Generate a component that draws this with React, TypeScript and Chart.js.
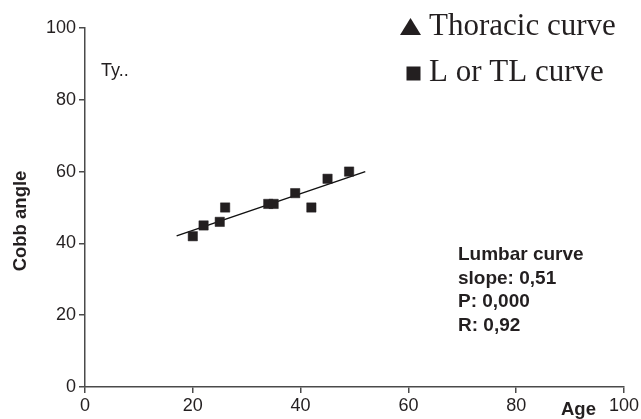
import { useEffect, useRef } from "react";
import { Chart, registerables } from "chart.js";

Chart.register(...registerables);

// ---- data ----
const ageValues = [20, 22, 25, 26, 34, 35, 39, 42, 45, 49];
const cobbValues = [42, 45, 46, 50, 51, 51, 54, 50, 58, 60];
const thoracicAge: number[] = [];
const thoracicCobb: number[] = [];
const trendAge = [17, 52];
const trendCobb = [42.1, 60];
const axisMin = 0;
const axisMax = 100;
const axisStep = 20;
const legendLabels = ["Thoracic curve", "L or TL curve"];
const statsLines = ["Lumbar curve", "slope: 0,51", "P: 0,000", "R: 0,92"];
const panelLabel = "Ty..";
const xTitle = "Age";
const yTitle = "Cobb angle";

const INK = "#231f20";
const AXIS = "#4a4a4a";
const SANS = '"Liberation Sans", Arial, sans-serif';
const SERIF = '"Liberation Serif", "Times New Roman", serif';

const textPlugin = {
  id: "textPlugin",
  afterDraw(chart: any) {
    const ctx = chart.ctx as CanvasRenderingContext2D;
    ctx.save();
    ctx.fillStyle = INK;

    // panel label
    ctx.font = `18px ${SANS}`;
    ctx.textAlign = "left";
    ctx.textBaseline = "alphabetic";
    ctx.fillText(panelLabel, 101, 76);

    // axis titles
    ctx.font = `bold 18.5px ${SANS}`;
    ctx.fillText(xTitle, 561, 415);
    ctx.save();
    ctx.translate(21, 221);
    ctx.rotate(-Math.PI / 2);
    ctx.textAlign = "center";
    ctx.textBaseline = "middle";
    ctx.fillText(yTitle, 0, 0);
    ctx.restore();

    // statistics block
    ctx.font = `bold 19px ${SANS}`;
    statsLines.forEach((line, i) => {
      ctx.fillText(line, 458, 260 + i * 23.7);
    });

    // legend
    ctx.font = `31px ${SERIF}`;
    // triangle
    ctx.beginPath();
    ctx.moveTo(410.5, 18);
    ctx.lineTo(421, 35);
    ctx.lineTo(400, 35);
    ctx.closePath();
    ctx.fill();
    ctx.fillText(legendLabels[0], 429, 35);
    // square
    ctx.fillRect(406.5, 66.5, 14, 14);
    ctx.fillText(legendLabels[1], 429, 81);

    ctx.restore();
  },
};

export default function App() {
  const canvasRef = useRef<HTMLCanvasElement | null>(null);

  useEffect(() => {
    if (!canvasRef.current) return;
    const lumbar = ageValues.map((x, i) => ({ x, y: cobbValues[i] }));
    const thoracic = thoracicAge.map((x, i) => ({ x, y: thoracicCobb[i] }));
    const trend = trendAge.map((x, i) => ({ x, y: trendCobb[i] }));

    const axisCommon = {
      type: "linear" as const,
      min: axisMin,
      max: axisMax,
      border: { display: true, color: AXIS, width: 1.5 },
      grid: {
        display: true,
        drawOnChartArea: false,
        drawTicks: true,
        tickLength: 6,
        color: AXIS,
        lineWidth: 1.5,
      },
    };

    const chart = new Chart(canvasRef.current, {
      type: "scatter",
      data: {
        datasets: [
          {
            label: legendLabels[0],
            data: thoracic,
            pointStyle: "triangle",
            pointRadius: 7,
            backgroundColor: INK,
            borderColor: INK,
          },
          {
            label: legendLabels[1],
            data: lumbar,
            pointStyle: "rect",
            pointRadius: 6.6,
            backgroundColor: INK,
            borderColor: INK,
            borderWidth: 0.5,
          },
          {
            label: "trend",
            data: trend,
            type: "line",
            showLine: true,
            pointRadius: 0,
            borderColor: "#111",
            borderWidth: 1.5,
            fill: false,
          } as any,
        ],
      },
      options: {
        animation: false,
        responsive: true,
        maintainAspectRatio: false,
        layout: { padding: { top: 28, right: 16, left: 0, bottom: 0 } },
        plugins: {
          legend: { display: false },
          tooltip: { enabled: false },
        },
        scales: {
          x: {
            ...axisCommon,
            position: "bottom",
            ticks: {
              stepSize: axisStep,
              padding: 2,
              color: INK,
              font: { family: SANS, size: 18 },
              maxRotation: 0,
            },
            afterFit: (s: any) => {
              s.height = 32;
            },
          },
          y: {
            ...axisCommon,
            position: "left",
            ticks: {
              stepSize: axisStep,
              padding: 3,
              color: INK,
              font: { family: SANS, size: 18 },
            },
            afterFit: (s: any) => {
              s.width = 85;
            },
          },
        },
      },
      plugins: [textPlugin],
    });

    return () => chart.destroy();
  }, []);

  return (
    <div
      style={{
        position: "fixed",
        left: 0,
        top: 0,
        width: 641,
        height: 419,
        background: "#fff",
      }}
    >
      <canvas ref={canvasRef} />
    </div>
  );
}
